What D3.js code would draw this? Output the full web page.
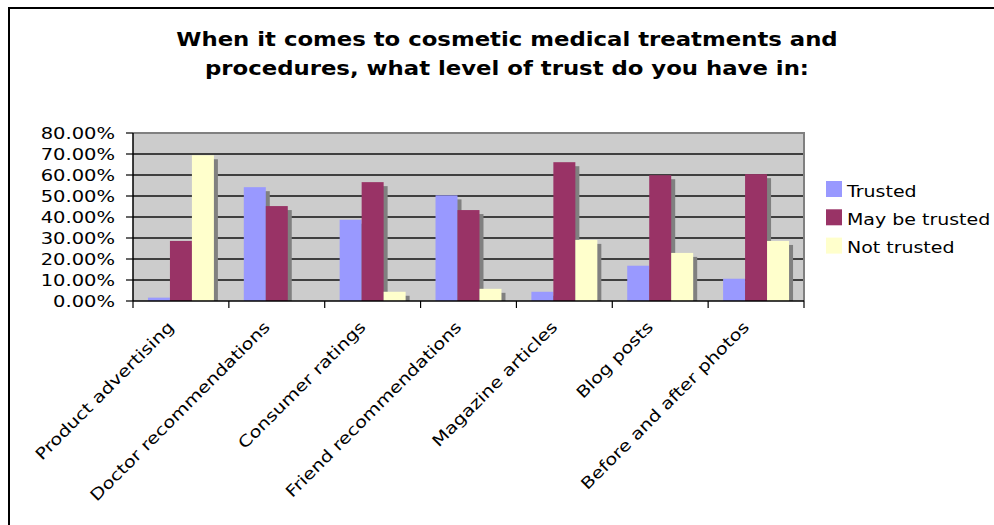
<!DOCTYPE html>
<html>
<head>
<meta charset="utf-8">
<script src="https://cdn.jsdelivr.net/npm/d3@7"></script>
<style>
  html, body { margin: 0; padding: 0; background: #fff; }
  svg { display: block; }
  text { font-family: "DejaVu Sans", Verdana, sans-serif; fill: #000; }
</style>
</head>
<body>
<svg id="chart" width="994" height="525"></svg>
<script>
// ---- data ----
const titleLines = ["When it comes to cosmetic medical treatments and",
                    "procedures, what level of trust do you have in:"];
const categories = ["Product advertising", "Doctor recommendations", "Consumer ratings",
                    "Friend recommendations", "Magazine articles", "Blog posts",
                    "Before and after photos"];
const seriesNames = ["Trusted", "May be trusted", "Not trusted"];
const trusted      = [1.6, 54.2, 38.7, 50.3, 4.4, 16.8, 10.6];
const mayBeTrusted = [28.6, 45.2, 56.6, 43.3, 66.1, 59.9, 60.4];
const notTrusted   = [69.4, null, 4.4, 5.8, 29.1, 22.9, 28.6];
const yTicks = [0, 10, 20, 30, 40, 50, 60, 70, 80];
const seriesColors = ["#9999FF", "#993366", "#FFFFCC"];

const seriesValues = [trusted, mayBeTrusted, notTrusted];

// ---- layout ----
const svg = d3.select("#chart");
const plot = { left: 133, right: 804, top: 133, bottom: 301 };

// outer frame
svg.append("rect").attr("x", 9).attr("y", 8).attr("width", 1000).attr("height", 600)
  .attr("fill", "#fff").attr("stroke", "#000").attr("stroke-width", 2);

// title
const title = svg.append("g");
titleLines.forEach((t, i) => {
  title.append("text")
    .attr("transform", `translate(507,${46 + i * 29}) scale(1.2,1)`)
    .attr("text-anchor", "middle")
    .attr("font-weight", "bold")
    .attr("font-size", 19)
    .text(t);
});

const x0 = d3.scaleBand().domain(categories).range([plot.left, plot.right]).paddingInner(0).paddingOuter(0);
const x1 = d3.scaleBand().domain(seriesNames).range([0, x0.bandwidth()]).paddingInner(0).paddingOuter(0.68);
const y = d3.scaleLinear().domain([0, 80]).range([plot.bottom, plot.top]);

// plot background
svg.append("rect")
  .attr("x", plot.left).attr("y", plot.top)
  .attr("width", plot.right - plot.left).attr("height", plot.bottom - plot.top)
  .attr("fill", "#CCCCCC");

// gridlines
svg.append("g").selectAll("line").data(yTicks.filter(d => d > 0 && d < 80)).join("line")
  .attr("x1", plot.left).attr("x2", plot.right)
  .attr("y1", d => y(d)).attr("y2", d => y(d))
  .attr("stroke", "#111").attr("stroke-width", 1.4);

// plot border (top & right)
svg.append("path")
  .attr("d", `M${plot.left},${plot.top}H${plot.right}V${plot.bottom}`)
  .attr("fill", "none").attr("stroke", "#808080").attr("stroke-width", 2);

// bar data
const bars = [];
categories.forEach((c, ci) => {
  seriesNames.forEach((s, si) => {
    const v = seriesValues[si][ci];
    if (v !== null && v !== undefined) bars.push({ c, s, si, v });
  });
});

// shadows first
const shadowOff = 4;
svg.append("g").selectAll("rect").data(bars).join("rect")
  .attr("x", d => x0(d.c) + x1(d.s) + shadowOff)
  .attr("y", d => y(d.v) + shadowOff)
  .attr("width", x1.bandwidth())
  .attr("height", d => Math.max(0, y(0) - y(d.v) - shadowOff))
  .attr("fill", "#808080");

// bars
svg.append("g").selectAll("rect").data(bars).join("rect")
  .attr("x", d => x0(d.c) + x1(d.s))
  .attr("y", d => y(d.v))
  .attr("width", x1.bandwidth())
  .attr("height", d => y(0) - y(d.v))
  .attr("fill", d => seriesColors[d.si]);

// y axis
const yAxis = svg.append("g");
yAxis.append("line").attr("x1", plot.left).attr("x2", plot.left)
  .attr("y1", plot.top).attr("y2", plot.bottom).attr("stroke", "#000").attr("stroke-width", 1.5);
yAxis.selectAll("line.tick").data(yTicks).join("line").attr("class", "tick")
  .attr("x1", plot.left - 7).attr("x2", plot.left)
  .attr("y1", d => y(d)).attr("y2", d => y(d))
  .attr("stroke", "#000").attr("stroke-width", 1.2);
yAxis.selectAll("text").data(yTicks).join("text")
  .attr("transform", d => `translate(115,${y(d) + 6}) scale(1.22,1)`)
  .attr("text-anchor", "end")
  .attr("font-size", 16)
  .text(d => d3.format(".2f")(d) + "%");

// x axis
const xAxis = svg.append("g");
xAxis.append("line").attr("x1", plot.left).attr("x2", plot.right)
  .attr("y1", plot.bottom).attr("y2", plot.bottom).attr("stroke", "#000").attr("stroke-width", 1.5);
const boundaries = categories.map(c => x0(c)).concat([plot.right]);
xAxis.selectAll("line.tick").data(boundaries).join("line").attr("class", "tick")
  .attr("x1", d => d).attr("x2", d => d)
  .attr("y1", plot.bottom).attr("y2", plot.bottom + 7)
  .attr("stroke", "#000").attr("stroke-width", 1.2);
xAxis.selectAll("text").data(categories).join("text")
  .attr("transform", d => `translate(${x0(d) + x0.bandwidth() / 2 - 6},${328}) rotate(-45) scale(1.21,1)`)
  .attr("text-anchor", "end")
  .attr("font-size", 16)
  .text(d => d);

// legend
const legend = svg.append("g");
seriesNames.forEach((s, i) => {
  legend.append("rect").attr("x", 826).attr("y", 181 + i * 28.3)
    .attr("width", 16).attr("height", 16).attr("fill", seriesColors[i]);
  legend.append("text")
    .attr("transform", `translate(847,${196.5 + i * 28.3}) scale(1.15,1)`)
    .attr("font-size", 16.5)
    .text(s);
});
</script>
</body>
</html>
